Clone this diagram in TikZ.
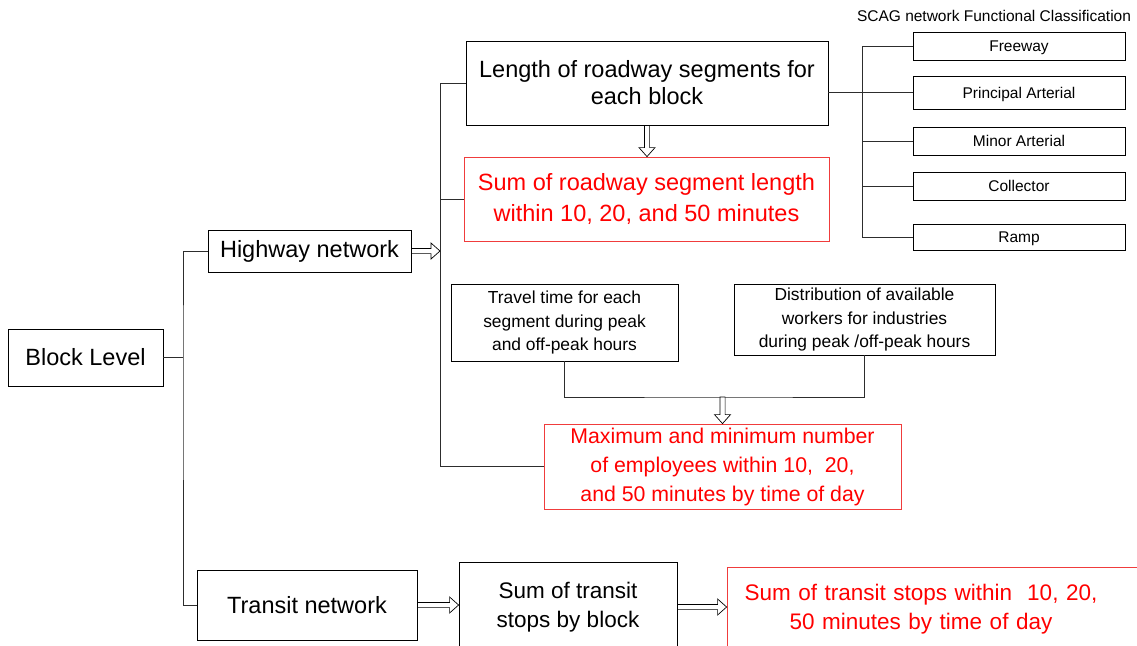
\documentclass[tikz,border=0pt]{standalone}
\usepackage{fontspec}
\setmainfont{Liberation Sans}
\usetikzlibrary{calc}
\definecolor{lineg}{RGB}{45,45,45}
\definecolor{redb}{RGB}{240,60,60}
\newcommand\fsbig{\fontsize{23.5}{27}\selectfont}
\newcommand\fsred{\fontsize{23.5}{31}\selectfont}
\newcommand\fsmax{\fontsize{21.3}{29}\selectfont}
\newcommand\fsmid{\fontsize{17.4}{23.5}\selectfont}
\newcommand\fssmall{\fontsize{15.5}{18}\selectfont}
\newcommand\fstr{\fontsize{22.5}{29}\selectfont}
\tikzset{
  box/.style={draw=black, line width=0.8pt, align=center, inner sep=0pt, text=black},
  classbox/.style={box, minimum width=212pt, font=\fssmall, text height=11pt, text depth=0pt},
  redbox/.style={draw=redb, line width=0.8pt, align=center, inner sep=0pt, text=red},
  conn/.style={draw=lineg, line width=0.8pt},
  hollowsty/.style={draw=black, fill=white, line width=0.7pt, line join=miter}
}
\newcommand\harrow[2]{%
  \coordinate (hA) at (#1);
  \coordinate (hB) at (#2);
  \coordinate (hH) at ($(hB)!9pt!(hA)$);
  \draw[hollowsty] ($(hA)!2.6pt!90:(hB)$) -- ($(hH)!2.6pt!90:(hB)$) -- ($(hH)!8pt!90:(hB)$) -- (hB)
    -- ($(hH)!8pt!-90:(hB)$) -- ($(hH)!2.6pt!-90:(hB)$) -- ($(hA)!2.6pt!-90:(hB)$) -- cycle;}
\begin{document}
\begin{tikzpicture}[x=1pt,y=-1pt]
\useasboundingbox (0,0) rectangle (1137,645);
% nodes
\node[box, minimum width=155pt, minimum height=57pt, font=\fsbig] (block) at (85.5,357.5) {Block Level};
\node[box, minimum width=203pt, minimum height=42pt, font=\fsbig] (highway) at (309.5,251) {Highway network};
\node[box, minimum width=220pt, minimum height=70pt, font=\fsbig] (transit) at (307,605) {Transit network};
\node[box, minimum width=362pt, minimum height=84pt, font=\fsbig] (length) at (647,83) {Length of roadway segments for\\each block};
\node[redbox, minimum width=365pt, minimum height=84pt, font=\fsred] (sumroad) at (646.5,199) {Sum of roadway segment length\\within 10, 20, and 50 minutes};
\node[font=\fssmall, anchor=base] (title) at (994,21) {SCAG network Functional Classification};
\node[classbox, minimum height=28pt] (freeway) at (1019,46) {Freeway};
\node[classbox, minimum height=33pt] (principal) at (1019,92.5) {Principal Arterial};
\node[classbox, minimum height=28pt] (minor) at (1019,141) {Minor Arterial};
\node[classbox, minimum height=28pt] (collector) at (1019,186) {Collector};
\node[classbox, minimum height=26pt] (ramp) at (1019,237) {Ramp};
\node[box, minimum width=227pt, minimum height=77pt, font=\fsmid] (travel) at (564.5,322.5) {Travel time for each\\segment during peak\\and off-peak hours};
\node[box, minimum width=261pt, minimum height=71pt, font=\fsmid] (dist) at (864.5,319.5) {Distribution of available\\workers for industries\\during peak /off-peak hours};
\node[redbox, minimum width=357pt, minimum height=85pt, font=\fsmax] (maxbox) at (722.5,466.5) {Maximum and minimum number\\of employees within 10,\ \ 20,\\and 50 minutes by time of day};
\node[box, minimum width=218pt, minimum height=90pt, font=\fstr] (stops) at (568,607) {Sum of transit\\stops by block};
\node[redbox, minimum width=418pt, minimum height=84pt, font=\fstr, text width=410pt] (redtransit) at (936,609) {\hspace*{-30pt}Sum of transit stops within\ \ 10, 20,\\\hspace*{-30pt}50 minutes by time of day};
% coordinates
\coordinate (j1) at (183,357.5);
\coordinate (s1) at (440,83);
\coordinate (s2) at (862,46);
\coordinate (m) at (722.5,397);
\coordinate (ha) at (highway.east -| s1);
\coordinate (la) at (length.south |- sumroad.north);
\coordinate (ta) at (transit.east -| stops.west);
\coordinate (sa) at (stops.east -| redtransit.west);
% left tree
\draw[conn] (block.east) -- (j1);
\draw[conn] (highway.west) -| (j1) |- (transit.west);
% middle spine
\draw[conn] (length.west) -- (s1) |- (maxbox.west);
\draw[conn] (sumroad.west) -- (sumroad.west -| s1);
% right tree
\draw[conn] (length.east |- principal.west) -- (principal.west);
\draw[conn] (freeway.west) -| (s2 |- ramp.west) -- (ramp.west);
\draw[conn] (minor.west) -- (minor.west -| s2);
\draw[conn] (collector.west) -- (collector.west -| s2);
% merge
\draw[conn] (travel.south) |- (m) -| (dist.south);
% hollow arrows
\harrow{highway.east}{ha}
\harrow{length.south}{la}
\harrow{m}{maxbox.north}
\harrow{transit.east}{ta}
\harrow{stops.east}{sa}
\end{tikzpicture}
\end{document}
